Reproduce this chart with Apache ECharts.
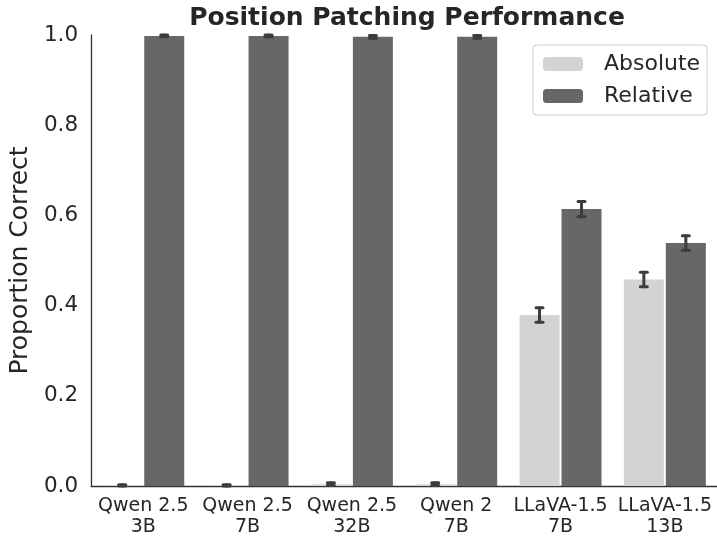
<!DOCTYPE html>
<html>
<head>
<meta charset="utf-8">
<script src="https://cdn.jsdelivr.net/npm/echarts@6/dist/echarts.min.js"></script>
<style>
html,body{margin:0;padding:0;background:#fff;}
#chart{width:717px;height:540px;}
</style>
</head>
<body>
<div id="chart"></div>
<script>
const categories = ['Qwen 2.5\n3B', 'Qwen 2.5\n7B', 'Qwen 2.5\n32B', 'Qwen 2\n7B', 'LLaVA-1.5\n7B', 'LLaVA-1.5\n13B'];
const absoluteVals = [0.001, 0.001, 0.004, 0.004, 0.379, 0.458];
const absoluteErr = [0.002, 0.002, 0.003, 0.003, 0.016, 0.016];
const relativeVals = [0.998, 0.998, 0.996, 0.996, 0.614, 0.539];
const relativeErr = [0.002, 0.002, 0.003, 0.003, 0.017, 0.016];
const yTicks = [0, 0.2, 0.4, 0.6, 0.8, 1.0];

const FONT = 'DejaVu Sans';
const BAR_W = 40;
const OFFSET = 21;

function errSeries(vals, errs, dx) {
  return {
    type: 'custom',
    silent: true,
    z: 10,
    data: vals.map((v, i) => [i, v, errs[i]]),
    renderItem: function (params, api) {
      const i = api.value(0), v = api.value(1), e = api.value(2);
      const top = api.coord([i, v + e]);
      const bot = api.coord([i, Math.max(0, v - e)]);
      const x = top[0] + dx;
      const st = { stroke: '#3c3c3c', lineWidth: 3, lineCap: 'round' };
      return {
        type: 'group',
        children: [
          { type: 'line', shape: { x1: x, y1: top[1], x2: x, y2: bot[1] }, style: st },
          { type: 'line', shape: { x1: x - 3.5, y1: top[1], x2: x + 3.5, y2: top[1] }, style: st },
          { type: 'line', shape: { x1: x - 3.5, y1: bot[1], x2: x + 3.5, y2: bot[1] }, style: st }
        ]
      };
    }
  };
}

const chart = echarts.init(document.getElementById('chart'), null, { renderer: 'canvas' });
chart.setOption({
  animation: false,
  backgroundColor: '#ffffff',
  title: {
    text: 'Position Patching Performance',
    left: 402, top: 1, textAlign: 'center',
    textStyle: { fontFamily: FONT, fontWeight: 'bold', fontSize: 25, color: '#262626' }
  },
  legend: {
    left: 533, top: 45,
    orient: 'vertical',
    data: ['Absolute', 'Relative'],
    itemWidth: 40, itemHeight: 14, itemGap: 10,
    padding: [8, 7, 8, 10],
    borderColor: '#d0d0d0', borderWidth: 1, borderRadius: 4,
    backgroundColor: '#ffffff',
    textStyle: { fontFamily: FONT, fontSize: 22, color: '#262626', padding: [0, 0, 0, 16] }
  },
  grid: { left: 90.5, top: 35, width: 629.6, bottom: 54, containLabel: false },
  xAxis: {
    type: 'category',
    data: categories,
    axisLine: { lineStyle: { color: '#333333', width: 1.3 } },
    axisTick: { show: false },
    axisLabel: { fontFamily: FONT, fontSize: 19, color: '#262626', lineHeight: 21, margin: 10, interval: 0 }
  },
  yAxis: {
    type: 'value',
    min: 0, max: 1, interval: 0.2,
    name: 'Proportion Correct',
    nameLocation: 'middle', nameGap: 44,
    nameTextStyle: { fontFamily: FONT, fontSize: 25, color: '#262626' },
    axisLine: { show: true, lineStyle: { color: '#333333', width: 1.3 } },
    axisTick: { show: false },
    splitLine: { show: false },
    axisLabel: {
      fontFamily: FONT, fontSize: 21.5, color: '#262626', margin: 13,
      formatter: v => yTicks.some(t => Math.abs(t - v) < 1e-9) ? v.toFixed(1) : ''
    }
  },
  series: [
    { name: 'Absolute', type: 'bar', data: absoluteVals, barWidth: BAR_W, barGap: '5%',
      itemStyle: { color: '#d3d3d3' } },
    { name: 'Relative', type: 'bar', data: relativeVals, barWidth: BAR_W,
      itemStyle: { color: '#676767' } },
    errSeries(absoluteVals, absoluteErr, -OFFSET),
    errSeries(relativeVals, relativeErr, OFFSET)
  ]
});
</script>
</body>
</html>
